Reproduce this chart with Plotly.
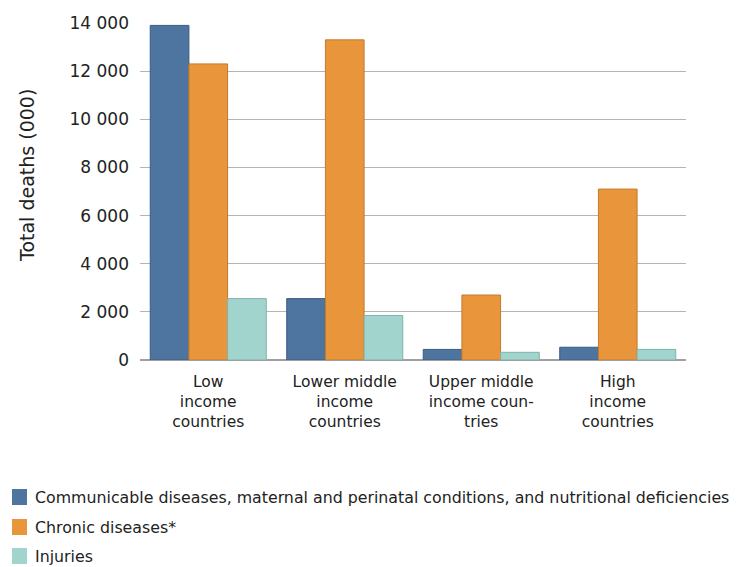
import plotly.graph_objects as go

categories = [
    "Low<br>income<br>countries",
    "Lower middle<br>income<br>countries",
    "Upper middle<br>income coun-<br>tries",
    "High<br>income<br>countries",
]
communicable = [13900, 2550, 440, 530]
chronic = [12300, 13300, 2700, 7100]
injuries = [2550, 1850, 320, 440]

series = [
    ("Communicable diseases, maternal and perinatal conditions, and nutritional deficiencies",
     communicable, "#4E74A0", "#3B5C82"),
    ("Chronic diseases*", chronic, "#E9953C", "#C47A2C"),
    ("Injuries", injuries, "#A0D4CC", "#7FB3AB"),
]

fig = go.Figure()
for name, vals, color, edge in series:
    fig.add_trace(go.Bar(
        x=categories, y=vals, name=name,
        marker=dict(color=color, line=dict(color=edge, width=1)),
        showlegend=False,
    ))

W, H = 747, 567
L, R, T, B = 140, 61, 23, 207
PW, PH = W - L - R, H - T - B

fig.update_layout(
    width=W, height=H,
    margin=dict(l=L, r=R, t=T, b=B, pad=0),
    paper_bgcolor="white", plot_bgcolor="white",
    barmode="group", bargap=0.15, bargroupgap=0,
    separators=". ",
    font=dict(family="DejaVu Sans, Verdana, sans-serif", color="#222222"),
    xaxis=dict(
        showgrid=False, showline=False, zeroline=False, ticks="",
        tickfont=dict(size=15.5, color="#222222"),
        ticklabelstandoff=10,
        range=[-0.5, 3.5],
    ),
    yaxis=dict(
        range=[0, 14000], dtick=2000, tickformat=",d",
        showgrid=True, gridcolor="#B4B4B4", gridwidth=1,
        zeroline=True, zerolinecolor="#A0A0A0", zerolinewidth=1.5,
        showline=False, ticks="",
        tickfont=dict(size=17, color="#222222"),
        ticklabelstandoff=10,
    ),
    showlegend=False,
)

# Legend drawn as swatches and labels below the chart (pixel positions via paper coords)
def px_x(x):
    return (x - L) / PW

def px_y(y):
    return 1 - (y - T) / PH

row_y = [497, 527, 556]
for (name, vals, color, edge), yc in zip(series, row_y):
    fig.add_shape(
        type="rect", xref="paper", yref="paper",
        x0=px_x(12), x1=px_x(27), y0=px_y(yc + 8), y1=px_y(yc - 8),
        fillcolor=color, line=dict(width=0),
    )
    fig.add_annotation(
        text=name, xref="paper", yref="paper",
        x=px_x(33), y=px_y(yc), xanchor="left", yanchor="middle",
        showarrow=False, font=dict(size=15.8, color="#222222"),
    )

fig.add_annotation(
    text="Total deaths (000)", textangle=-90,
    xref="paper", yref="paper",
    x=px_x(27), y=px_y(176),
    xanchor="center", yanchor="middle", showarrow=False,
    font=dict(size=19, color="#222222"),
)

fig.write_html("out.html")
